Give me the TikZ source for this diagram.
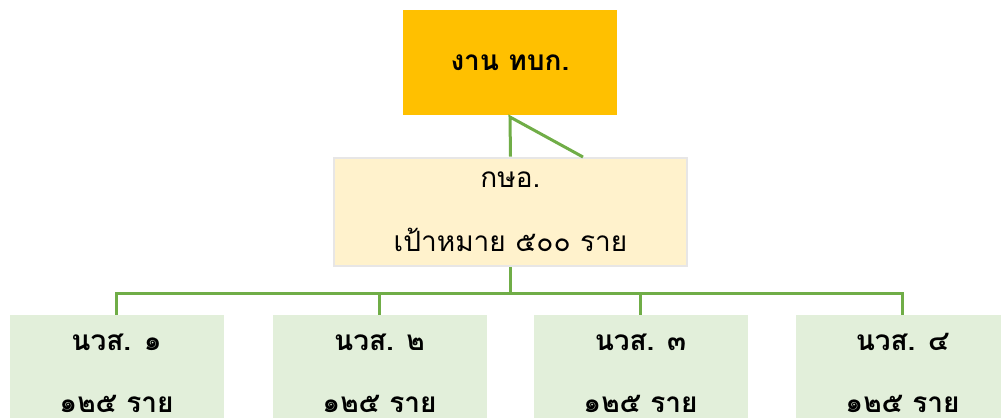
\documentclass[tikz,border=0pt]{standalone}
\usepackage{fontspec}
\newfontfamily\thaifont[Script=Thai]{Loma}
\tikzset{every picture/.style={line width=0.75pt}}
\tikzset{
  link/.style={draw={rgb, 255:red, 112; green, 173; blue, 71 }, line width=2.25pt},
  headbox/.style={fill={rgb, 255:red, 255; green, 192; blue, 0 }, minimum width=160.5pt, minimum height=78.75pt, inner sep=0pt, align=center, font=\thaifont\bfseries\fontsize{21}{26}\selectfont},
  goalbox/.style={draw={rgb, 255:red, 231; green, 230; blue, 230 }, line width=1.5pt, fill={rgb, 255:red, 255; green, 242; blue, 204 }, minimum width=265pt, minimum height=81.5pt, inner sep=0pt, align=center, font=\thaifont\fontsize{21}{48}\selectfont},
  unitbox/.style={fill={rgb, 255:red, 226; green, 239; blue, 218 }, minimum width=160.5pt, minimum height=87pt, inner sep=0pt, align=center, font=\thaifont\bfseries\fontsize{21}{46.5}\selectfont}
}
\begin{document}
\begin{tikzpicture}[x=0.75pt,y=0.75pt,yscale=-1,xscale=1]
	\useasboundingbox (0,0) rectangle (1001,418);
	\clip (0,0) rectangle (1001,418);

	% Boxes
	\node[headbox] (top) at (510,62.5) {งาน ทบก.};
	\node[goalbox] (mid) at (510.5,212) {กษอ.\\[0pt]เป้าหมาย ๕๐๐ ราย};
	\node[unitbox] (nvs1) at (116.5,373) {นวส. ๑\\๑๒๕ ราย};
	\node[unitbox] (nvs2) at (379.5,373) {นวส. ๒\\๑๒๕ ราย};
	\node[unitbox] (nvs3) at (640.5,373) {นวส. ๓\\๑๒๕ ราย};
	\node[unitbox] (nvs4) at (902.5,373) {นวส. ๔\\๑๒๕ ราย};

	% Lines
	\coordinate (kink) at (510,117);
	\coordinate (slant) at (583,157);
	\draw[link] (mid.north) -- (kink) -- (slant);
	\coordinate (bus) at (510.5,293);
	\draw[link] (mid.south) -- (bus);
	\foreach \i in {1,...,4}
	  \draw[link] (bus) -| (nvs\i.north);

\end{tikzpicture}
\end{document}
